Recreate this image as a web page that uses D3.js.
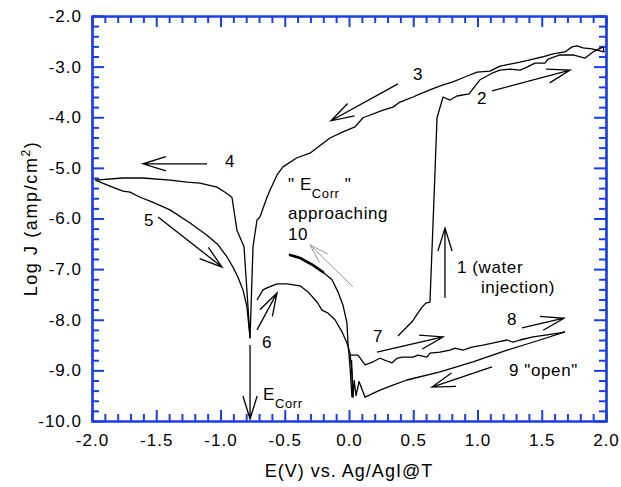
<!DOCTYPE html>
<html><head><meta charset="utf-8">
<script src="https://cdn.jsdelivr.net/npm/d3@7"></script>
<style>
body{margin:0;background:#fff}
text{font-family:"Liberation Sans",Arial,Helvetica,sans-serif;fill:#000}
</style>
</head><body>
<svg id="c" width="621" height="487"></svg>
<script>
// ---- data (E in V vs Ag/AgI, log J in amp/cm^2) ----
const xTicks = [-2.0,-1.5,-1.0,-0.5,0.0,0.5,1.0,1.5,2.0];
const yTicks = [-10,-9,-8,-7,-6,-5,-4,-3,-2];
const xTitle = "E(V) vs. Ag/AgI@T";

// sweep 1-2 : water injection, rising to +2 V
const sweepUp = [[0.381,-8.32],[0.490,-8.04],[0.568,-7.75],[0.599,-7.67],[0.630,-7.65],[0.660,-5.70],
 [0.685,-4.01],[0.732,-3.60],[0.786,-3.66],[0.840,-3.58],[0.934,-3.54],[1.019,-3.26],[1.113,-3.13],
 [1.175,-3.07],[1.253,-3.05],[1.331,-3.07],[1.385,-3.01],[1.447,-2.93],[1.525,-2.93],[1.549,-2.85],
 [1.642,-2.77],[1.743,-2.77],[1.837,-2.83],[1.899,-2.71],[1.977,-2.61]];
// sweep 3-4 : back down to -2 V
const sweepBack = [[1.977,-2.61],[1.985,-2.71],[1.891,-2.65],[1.821,-2.63],[1.774,-2.59],[1.735,-2.61],
 [1.681,-2.71],[1.588,-2.75],[1.502,-2.81],[1.432,-2.85],[1.331,-2.91],[1.253,-2.95],[1.175,-2.99],
 [1.097,-3.09],[0.996,-3.11],[0.887,-3.22],[0.809,-3.30],[0.732,-3.36],[0.669,-3.42],[0.553,-3.54],
 [0.498,-3.60],[0.397,-3.70],[0.342,-3.80],[0.265,-3.86],[0.109,-4.01],[0.047,-4.19],[-0.047,-4.29],
 [-0.148,-4.41],[-0.304,-4.71],[-0.405,-4.80],[-0.514,-4.98],[-0.560,-5.14],[-0.615,-5.44],
 [-0.638,-5.58],[-0.693,-5.97],[-0.716,-6.03],[-0.747,-6.56],[-0.770,-8.36],[-0.817,-6.56],
 [-0.872,-6.23],[-0.911,-5.58],[-0.965,-5.48],[-1.027,-5.38],[-1.160,-5.30],[-1.261,-5.28],
 [-1.393,-5.24],[-1.603,-5.20],[-1.759,-5.20],[-1.975,-5.24]];
// sweep 5 : from -2 V towards Ecorr
const sweep5 = [[-1.975,-5.24],[-1.860,-5.36],[-1.759,-5.46],[-1.704,-5.48],[-1.626,-5.58],[-1.533,-5.67],
 [-1.393,-5.83],[-1.237,-6.09],[-1.105,-6.33],[-1.019,-6.52],[-0.949,-6.76],[-0.903,-6.96],
 [-0.864,-7.16],[-0.825,-7.41],[-0.794,-7.75],[-0.770,-8.36]];
// sweep 6
const sweep6 = [[-0.716,-7.61],[-0.669,-7.41],[-0.638,-7.37],[-0.560,-7.29],[-0.482,-7.29],[-0.381,-7.33],
 [-0.319,-7.45],[-0.249,-7.65],[-0.210,-7.81],[-0.163,-7.87],[-0.109,-8.00],[-0.054,-8.24],
 [-0.016,-8.46],[0.008,-8.66],[0.023,-9.05],[0.031,-9.53]];
// sweep 10 ("Ecorr" approaching)
const sweep10 = [[-0.459,-6.72],[-0.381,-6.78],[-0.280,-6.92],[-0.202,-7.06],[-0.132,-7.21],[-0.086,-7.45],
 [-0.047,-7.71],[-0.016,-8.06],[-0.008,-8.46],[0.008,-8.93],[0.023,-9.53]];
const sweep10Bold = [[-0.459,-6.72],[-0.381,-6.78],[-0.280,-6.92],[-0.202,-7.06]];
// sweeps 7-8 : rising again
const sweep78 = [[0.008,-8.70],[0.070,-8.70],[0.125,-8.89],[0.187,-8.83],[0.241,-8.76],[0.280,-8.80],
 [0.335,-8.85],[0.374,-8.76],[0.420,-8.74],[0.498,-8.74],[0.537,-8.70],[0.607,-8.74],[0.630,-8.66],
 [0.708,-8.64],[0.786,-8.60],[0.825,-8.56],[0.887,-8.60],[0.957,-8.54],[1.043,-8.50],[1.152,-8.44],
 [1.230,-8.40],[1.276,-8.44],[1.331,-8.40],[1.432,-8.34],[1.541,-8.30],[1.642,-8.26],[1.681,-8.24]];
// sweep 9 : "open" return
const sweep9 = [[1.681,-8.24],[1.486,-8.40],[1.230,-8.60],[0.965,-8.83],[0.708,-9.03],[0.451,-9.19],
 [0.342,-9.29],[0.241,-9.39],[0.125,-9.53],[0.078,-9.22],[0.055,-9.50],[0.040,-9.20],[0.031,-9.53],
 [0.020,-8.80]];

// arrows [fromE, fromLogJ, toE, toLogJ]
const arrows = [[0.381,-3.34,-0.140,-4.07],[1.113,-3.48,1.720,-3.07],[-1.105,-4.92,-1.603,-4.92],
 [-1.486,-5.97,-0.988,-6.96],[-0.716,-8.20,-0.560,-7.47],[-0.770,-8.50,-0.770,-9.96],
 [0.747,-7.57,0.747,-6.19],[0.218,-8.64,0.732,-8.34],[1.346,-8.16,1.673,-7.97],[1.113,-8.93,0.646,-9.33]];
const greyArrows = [[0.031,-7.35,-0.304,-6.52]];

const labelText = ["3","2","4","5","6","7","8","9 \"open\"","1 (water","injection)","approaching","10"];
const labelE    = [0.498,0.996,-0.965,-1.595,-0.677,0.187,1.230,1.245,0.840,1.027,-0.475,-0.475];
const labelJ    = [-3.26,-3.74,-4.98,-6.15,-8.56,-8.44,-8.10,-9.11,-7.08,-7.47,-6.01,-6.42];

// ---- drawing ----
const svg = d3.select("#c");
const W=621,H=487, L=92,R=606,T=16,B=421;
const x = d3.scaleLinear().domain([-2,2]).range([L,R]);
const y = d3.scaleLinear().domain([-10,-2]).range([B,T]);
const blue = "#1c3fe4";
const fmt = d => d.toFixed(1);
const xMinor = d3.range(-20,21).map(i=>i/10).filter(v=>Math.abs(v*2-Math.round(v*2))>1e-6);
const yMinor = d3.range(-50,-9).map(i=>i/5).filter(v=>Math.abs(v-Math.round(v))>1e-6);

function styleAxis(g){
  g.selectAll("path.domain").attr("stroke",blue).attr("stroke-width",2.2);
  g.selectAll(".tick line").attr("stroke",blue).attr("stroke-width",2);
  g.selectAll(".tick text").attr("font-family",'"Liberation Sans",Arial,sans-serif')
    .attr("font-size",17).attr("fill","#000").style("letter-spacing","1px");
}
// minor ticks
svg.append("g").attr("transform",`translate(0,${B})`).call(d3.axisBottom(x).tickValues(xMinor).tickSize(-7).tickFormat("")).call(styleAxis);
svg.append("g").attr("transform",`translate(0,${T})`).call(d3.axisTop(x).tickValues(xMinor).tickSize(-7).tickFormat("")).call(styleAxis);
svg.append("g").attr("transform",`translate(${L},0)`).call(d3.axisLeft(y).tickValues(yMinor).tickSize(-7).tickFormat("")).call(styleAxis);
svg.append("g").attr("transform",`translate(${R},0)`).call(d3.axisRight(y).tickValues(yMinor).tickSize(-7).tickFormat("")).call(styleAxis);
// major ticks
svg.append("g").attr("transform",`translate(0,${B})`).call(d3.axisBottom(x).tickValues(xTicks).tickSizeInner(-11).tickSizeOuter(0).tickPadding(13).tickFormat(fmt)).call(styleAxis);
svg.append("g").attr("transform",`translate(0,${T})`).call(d3.axisTop(x).tickValues(xTicks).tickSizeInner(-11).tickSizeOuter(0).tickFormat("")).call(styleAxis);
svg.append("g").attr("transform",`translate(${L},0)`).call(d3.axisLeft(y).tickValues(yTicks).tickSizeInner(-12).tickSizeOuter(0).tickPadding(10).tickFormat(fmt)).call(styleAxis);
svg.append("g").attr("transform",`translate(${R},0)`).call(d3.axisRight(y).tickValues(yTicks).tickSizeInner(-12).tickSizeOuter(0).tickFormat("")).call(styleAxis);

// curves
const line = d3.line().x(d=>x(d[0])).y(d=>y(d[1]));
const curves = [sweepUp,sweepBack,sweep5,sweep6,sweep10,sweep78,sweep9];
svg.append("g").selectAll("path").data(curves).join("path")
  .attr("d",line).attr("fill","none").attr("stroke","#000").attr("stroke-width",1.3).attr("stroke-linejoin","round");
svg.append("path").attr("d",line(sweep10Bold)).attr("fill","none").attr("stroke","#000").attr("stroke-width",2.6).attr("stroke-linecap","round");

// arrows
function arrowPath(a,len){
  const x1=x(a[0]),y1=y(a[1]),x2=x(a[2]),y2=y(a[3]);
  const ang=Math.atan2(y2-y1,x2-x1), s=0.30;
  const b1=[x2-len*Math.cos(ang-s),y2-len*Math.sin(ang-s)];
  const b2=[x2-len*Math.cos(ang+s),y2-len*Math.sin(ang+s)];
  return `M${x1},${y1}L${x2},${y2}M${b1[0]},${b1[1]}L${x2},${y2}L${b2[0]},${b2[1]}`;
}
svg.append("g").selectAll("path").data(arrows).join("path")
  .attr("d",a=>arrowPath(a,24)).attr("fill","none").attr("stroke","#000").attr("stroke-width",1.3);
svg.append("g").selectAll("path").data(greyArrows).join("path")
  .attr("d",a=>arrowPath(a,20)).attr("fill","none").attr("stroke","#999").attr("stroke-width",1);

// labels
svg.append("g").selectAll("text").data(labelText).join("text")
  .attr("x",(d,i)=>x(labelE[i])).attr("y",(d,i)=>y(labelJ[i]))
  .attr("font-size",17).style("letter-spacing","0.6px").text(d=>d);

// " E_Corr " label
const q = svg.append("text").attr("x",x(-0.475)).attr("y",y(-5.44)).attr("font-size",17).style("letter-spacing","0.6px");
q.append("tspan").text('" E');
q.append("tspan").attr("font-size",13).attr("dy",8).text("Corr");
q.append("tspan").attr("dy",-8).text(' "');
// E_Corr at arrow
const e = svg.append("text").attr("x",x(-0.669)).attr("y",y(-9.59)).attr("font-size",17).style("letter-spacing","0.6px");
e.append("tspan").text("E");
e.append("tspan").attr("font-size",13).attr("dy",8).text("Corr");

// axis titles
svg.append("text").attr("x",(L+R)/2).attr("y",477).attr("text-anchor","middle")
  .attr("font-size",18).style("letter-spacing","1px").text(xTitle);
const yt = svg.append("text").attr("transform",`translate(37,${(T+B)/2}) rotate(-90)`)
  .attr("text-anchor","middle").attr("font-size",18).style("letter-spacing","1.6px");
yt.append("tspan").text("Log J (amp/cm");
yt.append("tspan").attr("font-size",12).attr("dy",-7).text("2");
yt.append("tspan").attr("dy",7).text(")");
</script>
</body></html>
